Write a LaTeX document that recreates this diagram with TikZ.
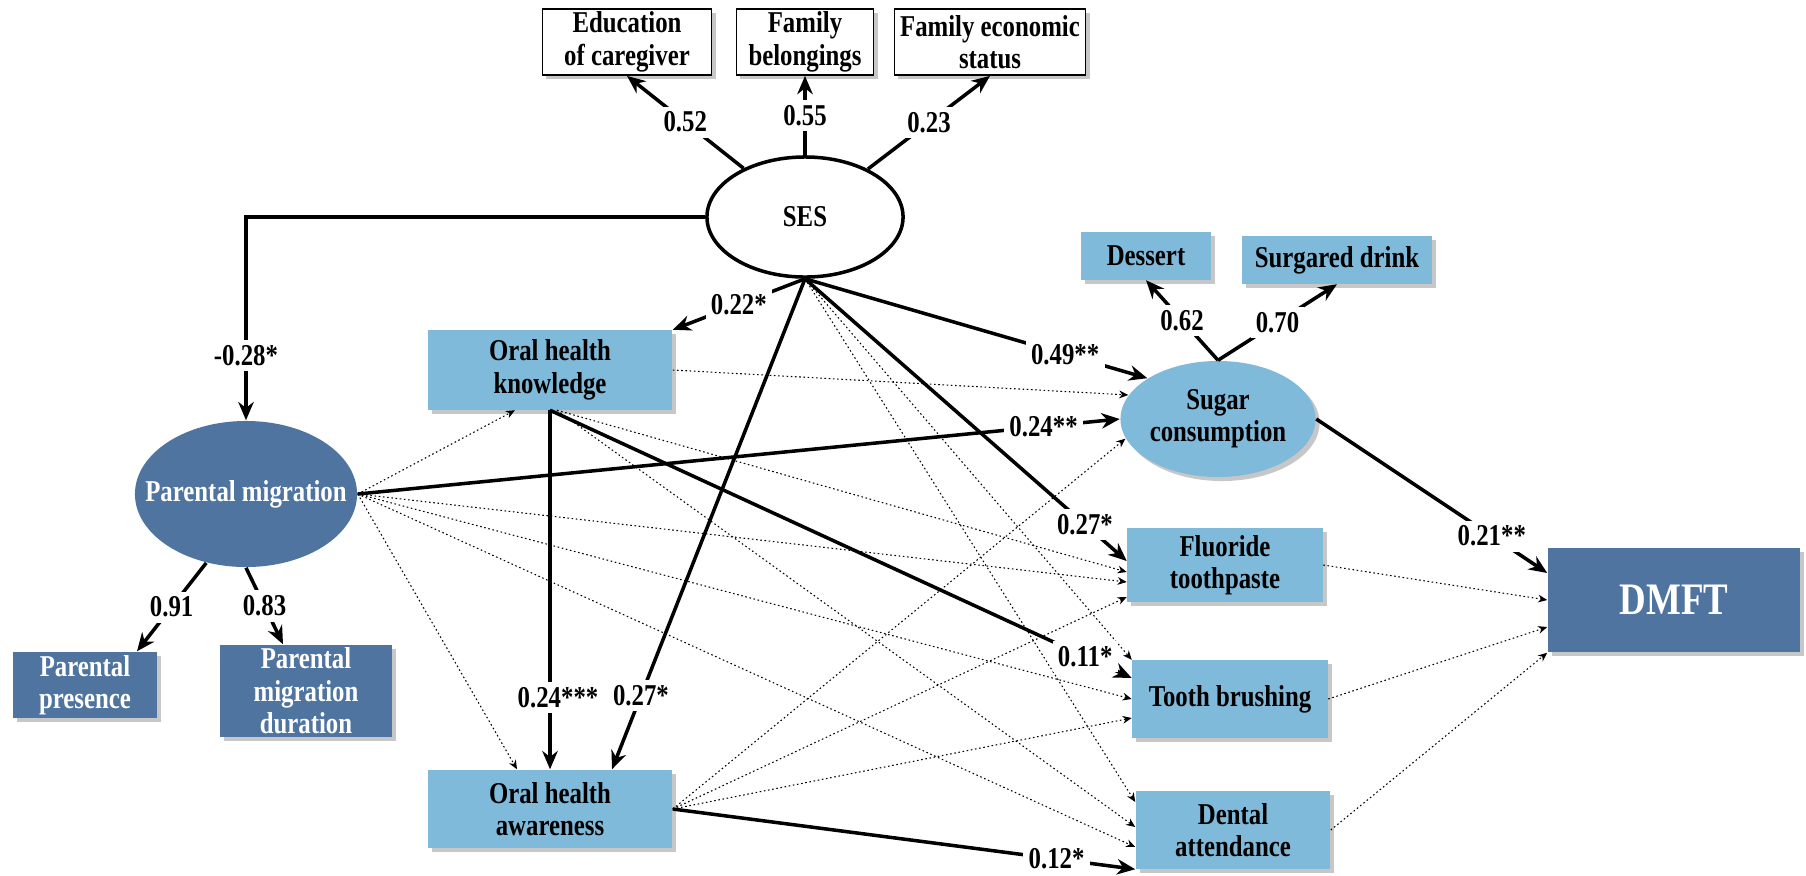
\documentclass[tikz,border=0pt]{standalone}
\usepackage{fontspec}
\setmainfont{Liberation Serif}[FakeStretch=0.82]
\usetikzlibrary{calc, arrows.meta, shapes.geometric, shadows}

\definecolor{obsblue}{RGB}{127,186,218}
\definecolor{latblue}{RGB}{79,116,159}

\begin{document}
\begin{tikzpicture}[x=0.01cm, y=-0.01cm,
  font=\fontsize{8.6}{9.2}\selectfont\bfseries,
  boxshadow/.style={drop shadow={shadow xshift=0.04cm, shadow yshift=-0.04cm, fill=black!22, opacity=1}},
  item/.style={rectangle, draw=black, line width=0.5pt, fill=white, inner sep=0pt, align=center, boxshadow},
  obs/.style={rectangle, fill=obsblue, inner sep=0pt, align=center, boxshadow},
  lat/.style={rectangle, fill=latblue, text=white, inner sep=0pt, align=center, boxshadow},
  sig/.style={line width=1pt, -{Stealth[length=5.2pt, width=4.4pt]}},
  ns/.style={line width=0.3pt, dash pattern=on 0.45pt off 0.75pt, -{Stealth[length=2.6pt, width=2.2pt]}},
  coef/.style={fill=white, inner sep=1.5pt}]

\useasboundingbox (0,0) rectangle (1806,875);

% SES and its indicators
\node[item, minimum width=1.69cm, minimum height=0.66cm] (edu) at (627,42) {Education\\of caregiver};
\node[item, minimum width=1.37cm, minimum height=0.66cm] (fam) at (805,42) {Family\\belongings};
\node[item, minimum width=1.91cm, minimum height=0.66cm] (econ) at (990,42) {Family economic\\status};
\node[ellipse, draw, line width=1pt, fill=white, minimum width=1.96cm, minimum height=1.2cm,
      label=center:SES] (ses) at (805,217) {};

% parental migration
\node[ellipse, fill=latblue, minimum width=2.22cm, minimum height=1.46cm,
      label={[text=white]center:Parental migration}] (pm) at (246,494) {};
\node[lat, minimum width=1.43cm, minimum height=0.66cm] (pres) at (85,685) {Parental\\presence};
\node[lat, minimum width=1.71cm, minimum height=0.92cm] (dur) at (306,691) {Parental\\migration\\duration};

% knowledge and awareness
\node[obs, minimum width=2.44cm, minimum height=0.79cm] (know) at (550,370) {Oral health\\knowledge};
\node[obs, minimum width=2.44cm, minimum height=0.78cm] (awa) at (550,809) {Oral health\\awareness};

% behaviours
\node[ellipse, fill=obsblue, boxshadow, minimum width=1.95cm, minimum height=1.16cm,
      label={[align=center]center:Sugar\\consumption}] (sugar) at (1218,419) {};
\node[obs, minimum width=1.29cm, minimum height=0.47cm] (dessert) at (1146,256) {Dessert};
\node[obs, minimum width=1.89cm, minimum height=0.47cm] (drink) at (1337,260) {Surgared drink};
\node[obs, minimum width=1.95cm, minimum height=0.74cm] (flu) at (1225,565) {Fluoride\\toothpaste};
\node[obs, minimum width=1.95cm, minimum height=0.77cm] (tb) at (1230,699) {Tooth brushing};
\node[obs, minimum width=1.94cm, minimum height=0.77cm] (dent) at (1233,830) {Dental\\attendance};

% outcome
\node[lat, minimum width=2.52cm, minimum height=1.04cm, font=\fontsize{12.8}{14}\selectfont\bfseries] (dmft) at (1674,600) {DMFT};

% non-significant paths
\draw[ns] (pm.east) -- ($(know.south)+(-35,0)$);
\draw[ns] (pm.east) -- ($(awa.north)+(-33,0)$);
\draw[ns] (pm.east) -- ($(flu.west)+(0,17)$);
\draw[ns] (pm.east) -- (tb.west);
\draw[ns] (pm.east) -- ($(dent.west)+(0,17)$);
\draw[ns] (know.east) -- (sugar.165);
\draw[ns] ($(know.south)+(7,0)$) -- ($(flu.west)+(0,7)$);
\draw[ns] ($(know.south)+(7,0)$) -- ($(dent.west)+(0,-3)$);
\draw[ns] (ses.south) -- (tb.north west);
\draw[ns] (ses.south) -- ($(dent.west)+(0,-28)$);
\draw[ns] (awa.east) -- (sugar.192);
\draw[ns] (awa.east) -- ($(flu.west)+(0,32)$);
\draw[ns] (awa.east) -- ($(tb.west)+(0,19)$);
\draw[ns] (flu.east) -- (dmft.west);
\draw[ns] (tb.east) -- ($(dmft.west)+(0,27)$);
\draw[ns] (dent.east) -- (dmft.south west);

% loadings
\draw[sig] (ses) -- node[coef]{0.52} (edu.south);
\draw[sig] (ses) -- node[coef]{0.55} (fam.south);
\draw[sig] (ses) -- node[coef]{0.23} (econ.south);
\draw[sig] (pm.240) -- node[coef]{0.91} ($(pres.north)+(52,0)$);
\draw[sig] (pm.south) -- node[coef]{0.83} ($(dur.north)+(-23,0)$);
\draw[sig] (sugar.north) -- node[coef]{0.62} (dessert.south);
\draw[sig] (sugar.north) -- node[coef]{0.70} (drink.south);

% significant paths
\draw[sig] (ses.west) -| node[coef, pos=0.84]{-0.28*} (pm.north);
\draw[sig] (ses.south) -- node[coef]{0.22*} (know.north east);
\draw[sig] (ses.south) -- node[coef, pos=0.85]{0.27*} ($(awa.north)+(62,0)$);
\draw[sig] (ses.south) -- node[coef, pos=0.76]{0.49**} (sugar.150);
\draw[sig] (ses.south) -- node[coef, pos=0.87]{0.27*} ($(flu.west)+(0,-4)$);
\draw[sig] (pm.east) -- node[coef, pos=0.9]{0.24**} (sugar.west);
\draw[sig] (know.south) -- node[coef, pos=0.8, xshift=0.08cm]{0.24***} (awa.north);
\draw[sig] (know.south) -- node[coef, pos=0.92]{0.11*} ($(tb.west)+(0,-21)$);
\draw[sig] (awa.east) -- node[coef, pos=0.83]{0.12*} (dent.south west);
\draw[sig] (sugar.east) -- node[coef, pos=0.76]{0.21**} ($(dmft.west)+(0,-27)$);

\end{tikzpicture}
\end{document}
